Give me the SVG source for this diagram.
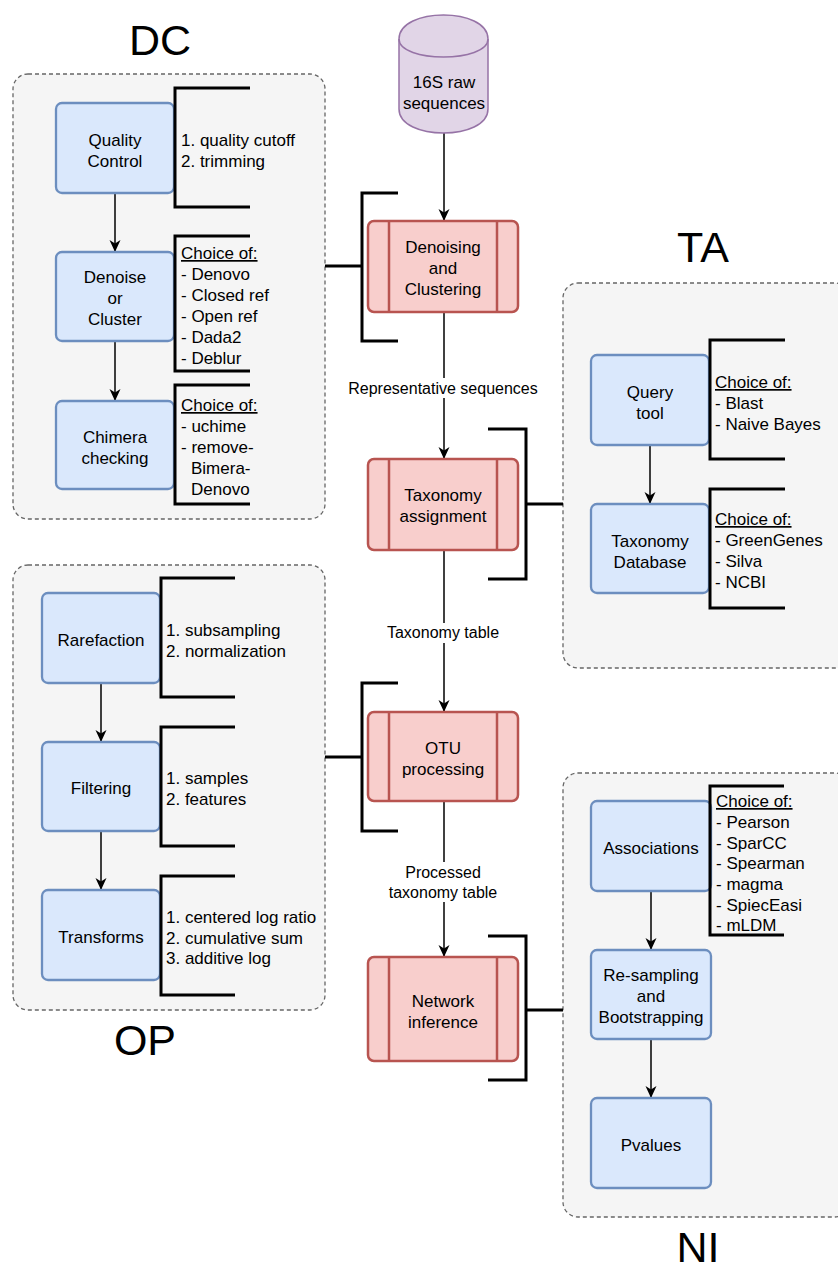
<svg xmlns="http://www.w3.org/2000/svg" width="838" height="1272" viewBox="0 0 838 1272">
<style>
text{font-family:"Liberation Sans",Arial,Helvetica,sans-serif;fill:#000}
.t{font-size:17px;text-anchor:middle}
.a{font-size:17px}
.u{text-decoration:underline}
.lbl{font-size:16px;text-anchor:middle}
.title{font-size:43px;text-anchor:middle}
.grp{fill:#f5f5f5;stroke:#666;stroke-width:1.3;stroke-dasharray:4 3}
.blue{fill:#dae8fc;stroke:#6c8ebf;stroke-width:2.3}
.red{fill:#f8cecc;stroke:#b85450;stroke-width:2.5}
.br{fill:none;stroke:#000;stroke-width:3}
.e{fill:none;stroke:#000;stroke-width:1.5;marker-end:url(#arr)}
.bg{fill:#fff}
</style>
<defs>
<marker id="arr" markerUnits="userSpaceOnUse" markerWidth="12" markerHeight="12" viewBox="0 0 12 12" refX="12" refY="6" orient="auto">
<path d="M0,0.5 L12,6 L0,11.5 L3.5,6 Z" fill="#000"/>
</marker>
</defs>

<rect width="838" height="1272" fill="#fff"/>

<!-- group containers -->
<g id="grp-DC">
<rect class="grp" x="13" y="74" width="312" height="445" rx="15"/>
<text class="title" x="160" y="55">DC</text>
</g>
<g id="grp-OP">
<rect class="grp" x="13" y="565" width="312" height="445" rx="15"/>
<text class="title" x="145" y="1055">OP</text>
</g>
<g id="grp-TA">
<rect class="grp" x="563" y="283" width="287" height="385" rx="15"/>
<text class="title" x="703" y="262">TA</text>
</g>
<g id="grp-NI">
<rect class="grp" x="563" y="773" width="287" height="444" rx="15"/>
<text class="title" x="698" y="1262">NI</text>
</g>

<!-- connectors -->
<g id="connectors">
<path class="e" d="M444,133 V221"/>
<path class="e" d="M444,312 V459"/>
<path class="e" d="M444,550 V712"/>
<path class="e" d="M444,801 V957"/>
<path class="e" d="M115,193 V252"/>
<path class="e" d="M115,341 V401"/>
<path class="e" d="M650,445 V504"/>
<path class="e" d="M101,683 V742"/>
<path class="e" d="M101,831 V890"/>
<path class="e" d="M651,891 V950"/>
<path class="e" d="M651,1039 V1098"/>
<path class="br" d="M325,266 H362"/>
<path class="br" d="M526,504 H563"/>
<path class="br" d="M325,757 H362"/>
<path class="br" d="M526,1010 H563"/>
<rect class="bg" x="346" y="378" width="195" height="20"/>
<text class="lbl" x="443" y="394">Representative sequences</text>
<rect class="bg" x="385" y="623" width="118" height="20"/>
<text class="lbl" x="443" y="638">Taxonomy table</text>
<rect class="bg" x="386" y="862" width="116" height="40"/>
<text class="lbl" x="443" y="878">Processed</text>
<text class="lbl" x="443" y="898">taxonomy table</text>
</g>

<!-- main pipeline -->
<g id="n-raw">
<path d="M399,39 C399,7 488,7 488,39 L488,109 C488,141 399,141 399,109 Z" fill="#e1d5e7" stroke="#9673a6" stroke-width="1.5"/>
<path d="M399,39 C399,63 488,63 488,39" fill="none" stroke="#9673a6" stroke-width="1.5"/>
<text class="t" x="444" y="88">16S raw</text>
<text class="t" x="444" y="109">sequences</text>
</g>
<g id="n-denoising">
<rect class="red" x="368" y="221" width="150" height="91" rx="6"/>
<path class="red" d="M389,221 V312 M497,221 V312"/>
<text class="t" x="443" y="253">Denoising</text>
<text class="t" x="443" y="274">and</text>
<text class="t" x="443" y="295">Clustering</text>
</g>
<g id="n-denoising-note">
<path class="br" d="M398,193 H362 V341 H398"/>
</g>
<g id="n-taxonomy">
<rect class="red" x="368" y="459" width="150" height="91" rx="6"/>
<path class="red" d="M389,459 V550 M497,459 V550"/>
<text class="t" x="443" y="501">Taxonomy</text>
<text class="t" x="443" y="522">assignment</text>
</g>
<g id="n-taxonomy-note">
<path class="br" d="M488,429 H526 V579 H488"/>
</g>
<g id="n-otu">
<rect class="red" x="368" y="712" width="150" height="89" rx="6"/>
<path class="red" d="M389,712 V801 M497,712 V801"/>
<text class="t" x="443" y="754">OTU</text>
<text class="t" x="443" y="775">processing</text>
</g>
<g id="n-otu-note">
<path class="br" d="M398,683 H362 V831 H398"/>
</g>
<g id="n-network">
<rect class="red" x="368" y="957" width="150" height="104" rx="6"/>
<path class="red" d="M389,957 V1061 M497,957 V1061"/>
<text class="t" x="443" y="1007">Network</text>
<text class="t" x="443" y="1028">inference</text>
</g>
<g id="n-network-note">
<path class="br" d="M488,936 H526 V1080 H488"/>
</g>

<!-- DC -->
<g id="n-qc">
<rect class="blue" x="56" y="103" width="118" height="90" rx="6"/>
<text class="t" x="115" y="146">Quality</text>
<text class="t" x="115" y="167">Control</text>
</g>
<g id="n-qc-note">
<path class="br" d="M250,88 H175 V207 H250"/>
<text class="a" x="181" y="146">1. quality cutoff</text>
<text class="a" x="181" y="167">2. trimming</text>
</g>
<g id="n-cluster">
<rect class="blue" x="56" y="252" width="118" height="89" rx="6"/>
<text class="t" x="115" y="283">Denoise</text>
<text class="t" x="115" y="304">or</text>
<text class="t" x="115" y="325">Cluster</text>
</g>
<g id="n-cluster-note">
<path class="br" d="M250,236 H175 V371 H250"/>
<text class="a u" x="181" y="259">Choice of:</text>
<text class="a" x="181" y="280">- Denovo</text>
<text class="a" x="181" y="301">- Closed ref</text>
<text class="a" x="181" y="322">- Open ref</text>
<text class="a" x="181" y="343">- Dada2</text>
<text class="a" x="181" y="364">- Deblur</text>
</g>
<g id="n-chimera">
<rect class="blue" x="56" y="401" width="118" height="88" rx="6"/>
<text class="t" x="115" y="443">Chimera</text>
<text class="t" x="115" y="464">checking</text>
</g>
<g id="n-chimera-note">
<path class="br" d="M250,385 H175 V504 H250"/>
<text class="a u" x="181" y="411">Choice of:</text>
<text class="a" x="181" y="432">- uchime</text>
<text class="a" x="181" y="453">- remove-</text>
<text class="a" x="191" y="474">Bimera-</text>
<text class="a" x="191" y="495">Denovo</text>
</g>

<!-- TA -->
<g id="n-query">
<rect class="blue" x="591" y="355" width="118" height="90" rx="6"/>
<text class="t" x="650" y="398">Query</text>
<text class="t" x="650" y="419">tool</text>
</g>
<g id="n-query-note">
<path class="br" d="M785,340 H710 V459 H785"/>
<text class="a u" x="715" y="388">Choice of:</text>
<text class="a" x="715" y="409">- Blast</text>
<text class="a" x="715" y="430">- Naive Bayes</text>
</g>
<g id="n-db">
<rect class="blue" x="591" y="504" width="118" height="89" rx="6"/>
<text class="t" x="650" y="547">Taxonomy</text>
<text class="t" x="650" y="568">Database</text>
</g>
<g id="n-db-note">
<path class="br" d="M785,489 H710 V608 H785"/>
<text class="a u" x="715" y="525">Choice of:</text>
<text class="a" x="715" y="546">- GreenGenes</text>
<text class="a" x="715" y="567">- Silva</text>
<text class="a" x="715" y="588">- NCBI</text>
</g>

<!-- OP -->
<g id="n-rare">
<rect class="blue" x="42" y="593" width="118" height="90" rx="6"/>
<text class="t" x="101" y="646">Rarefaction</text>
</g>
<g id="n-rare-note">
<path class="br" d="M235,578 H161 V697 H235"/>
<text class="a" x="166" y="636">1. subsampling</text>
<text class="a" x="166" y="657">2. normalization</text>
</g>
<g id="n-filter">
<rect class="blue" x="42" y="742" width="118" height="89" rx="6"/>
<text class="t" x="101" y="794">Filtering</text>
</g>
<g id="n-filter-note">
<path class="br" d="M235,727 H161 V846 H235"/>
<text class="a" x="166" y="784">1. samples</text>
<text class="a" x="166" y="805">2. features</text>
</g>
<g id="n-transform">
<rect class="blue" x="42" y="890" width="118" height="90" rx="6"/>
<text class="t" x="101" y="943">Transforms</text>
</g>
<g id="n-transform-note">
<path class="br" d="M235,876 H161 V995 H235"/>
<text class="a" x="166" y="923">1. centered log ratio</text>
<text class="a" x="166" y="944">2. cumulative sum</text>
<text class="a" x="166" y="964">3. additive log</text>
</g>

<!-- NI -->
<g id="n-assoc">
<rect class="blue" x="591" y="801" width="120" height="90" rx="6"/>
<text class="t" x="651" y="854">Associations</text>
</g>
<g id="n-assoc-note">
<path class="br" d="M784,786 H710 V935 H784"/>
<text class="a u" x="716" y="807">Choice of:</text>
<text class="a" x="716" y="828">- Pearson</text>
<text class="a" x="716" y="849">- SparCC</text>
<text class="a" x="716" y="869">- Spearman</text>
<text class="a" x="716" y="890">- magma</text>
<text class="a" x="716" y="911">- SpiecEasi</text>
<text class="a" x="716" y="931">- mLDM</text>
</g>
<g id="n-resample">
<rect class="blue" x="591" y="950" width="120" height="89" rx="6"/>
<text class="t" x="651" y="981">Re-sampling</text>
<text class="t" x="651" y="1002">and</text>
<text class="t" x="651" y="1023">Bootstrapping</text>
</g>
<g id="n-pvalues">
<rect class="blue" x="591" y="1098" width="120" height="90" rx="6"/>
<text class="t" x="651" y="1151">Pvalues</text>
</g>
</svg>
